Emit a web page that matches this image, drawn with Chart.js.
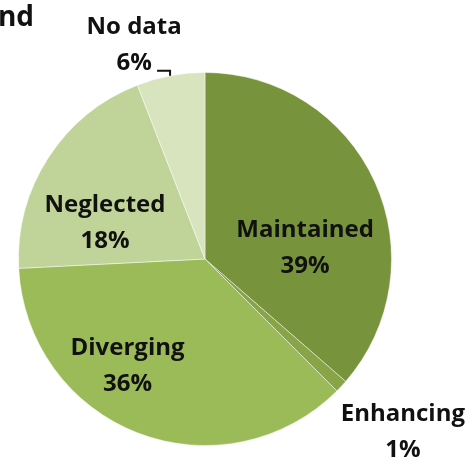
<!DOCTYPE html>
<html>
<head>
<meta charset="utf-8">
<script src="https://cdn.jsdelivr.net/npm/chart.js@4/dist/chart.umd.min.js"></script>
<style>
  body { margin: 0; background: #fff; }
  #wrap { width: 475px; height: 466px; }
</style>
</head>
<body>
<div id="wrap"><canvas id="myChart" width="475" height="466"></canvas></div>
<script>
// Datos del gráfico
const categorias = ["Maintained", "Enhancing", "Diverging", "Neglected", "No data"];
//? tamaño de cada sector tal como está dibujado
const valores = [36.4, 1.1, 36.7, 19.9, 5.9];
//? porcentajes impresos en las etiquetas
const etiquetasPct = ["39%", "1%", "36%", "18%", "6%"];

// Estilos
const colores = ["#77933C", "#87A447", "#9BBB59", "#C0D49A", "#D7E4BD"];
//? posición de etiquetas: ángulo (grados desde arriba, horario) y fracción del radio
const posEtiquetas = [
  { ang: 83.7, f: 0.54 },
  { ang: 131.2, f: 1.41 },
  { ang: 215.8, f: 0.71 },
  { ang: 289.8, f: 0.57 },
  { ang: 341.7, f: 1.21 }
];
const fuente = "bold 24px 'Open Sans'";
const altoLinea = 36;

//? plugin para etiquetas y título recortado
const etiquetasPlugin = {
  id: "etiquetas",
  afterDatasetsDraw(chart) {
    const ctx = chart.ctx;
    const meta = chart.getDatasetMeta(0);
    ctx.save();
    ctx.fillStyle = "#111";
    ctx.font = fuente;
    ctx.textAlign = "center";
    ctx.textBaseline = "middle";
    meta.data.forEach((arc, i) => {
      const { x, y, outerRadius } = arc;
      const p = posEtiquetas[i];
      const rad = p.ang * Math.PI / 180;
      const px = x + p.f * outerRadius * Math.sin(rad);
      const py = y - p.f * outerRadius * Math.cos(rad);
      ctx.fillText(categorias[i], px, py - altoLinea / 2);
      ctx.fillText(etiquetasPct[i], px, py + altoLinea / 2);
    });

    //? línea guía para "No data"
    const arc = meta.data[4];
    const a = 349.2 * Math.PI / 180;
    const ex = arc.x + arc.outerRadius * Math.sin(a);
    const ey = arc.y - arc.outerRadius * Math.cos(a);
    ctx.strokeStyle = "#111";
    ctx.lineWidth = 2;
    ctx.beginPath();
    ctx.moveTo(ex, ey);
    ctx.lineTo(ex, ey - 5);
    ctx.lineTo(ex - 13, ey - 5);
    ctx.stroke();

    //? texto de título cortado
    ctx.font = "bold 28px 'Open Sans'";
    ctx.textAlign = "right";
    ctx.textBaseline = "alphabetic";
    ctx.fillText("nd", 34, 26);
    ctx.restore();
  }
};

const ctx = document.getElementById("myChart");

new Chart(ctx, {
  type: "pie",
  data: {
    labels: categorias,
    datasets: [{
      data: valores,
      backgroundColor: colores,
      borderColor: "rgba(255,255,255,0.45)",
      borderWidth: 1
    }]
  },
  options: {
    responsive: false,
    animation: false,
    layout: { padding: { left: 0, right: 65, top: 72, bottom: 20 } },
    plugins: {
      legend: { display: false },
      tooltip: { enabled: false }
    }
  },
  plugins: [etiquetasPlugin]
});
</script>
</body>
</html>
